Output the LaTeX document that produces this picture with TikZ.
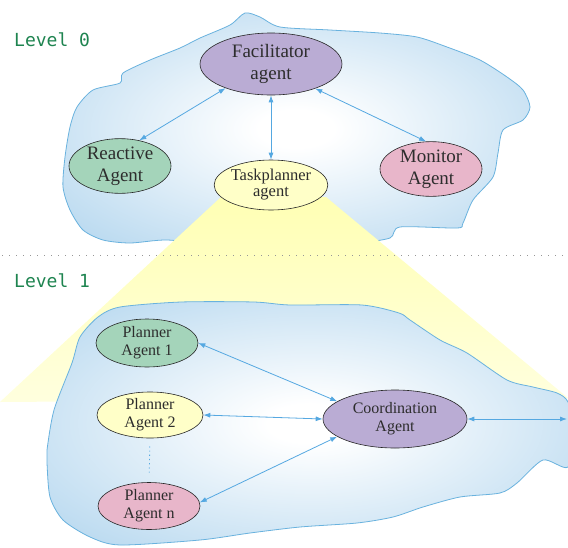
\documentclass[tikz,border=0pt]{standalone}
\usepackage{fontspec}
\setmainfont{Liberation Serif}
\newfontfamily\lvlfont{DejaVu Sans Mono}
\usetikzlibrary{shapes.geometric,arrows.meta}
\definecolor{cloudfill}{RGB}{168,208,236}
\definecolor{cloudline}{RGB}{105,178,222}
\definecolor{arrowc}{RGB}{85,168,225}
\definecolor{purp}{RGB}{186,172,212}
\definecolor{grn}{RGB}{164,212,186}
\definecolor{pnk}{RGB}{232,182,202}
\definecolor{yel}{RGB}{255,255,200}
\definecolor{coneA}{RGB}{255,255,180}
\definecolor{coneB}{RGB}{255,255,222}
\definecolor{lvlgreen}{RGB}{30,132,80}
\definecolor{txt}{RGB}{45,45,45}
\definecolor{dotc}{RGB}{150,150,150}
\pgfdeclareradialshading{cloudshade}{\pgfpoint{0bp}{0bp}}{color(0bp)=(white); color(4bp)=(white); color(40bp)=(cloudfill); color(80bp)=(cloudfill)}
\tikzset{
  agent/.style={ellipse, draw=black!85, line width=0.6pt, inner sep=0pt, text=txt, align=center},
  bigagent/.style={agent, font=\fontsize{19}{22}\selectfont},
  smallagent/.style={agent, font=\fontsize{16}{18}\selectfont},
  conn/.style={draw=arrowc, line width=0.8pt, {Latex[length=7pt,width=5pt]}-{Latex[length=7pt,width=5pt]}},
  lvl/.style={text=lvlgreen, font=\lvlfont\fontsize{18}{20}\selectfont, anchor=west, inner sep=0pt},
  cloud/.style={shading=cloudshade, draw=cloudline, line width=0.8pt}
}
\begin{document}
\begin{tikzpicture}[x=1pt,y=-1pt]
\useasboundingbox (0,0) rectangle (568,547);
\fill[white] (0,0) rectangle (568,547);

% top cloud
\shadedraw[cloud] plot[smooth cycle, tension=0.45] coordinates {
(63,187) (65,157) (70,127) (77,107) (93,90) (120,83) (123,73) (150,60) (180,48) (200,38) (230,25) (245,13) (260,17) (280,27) (330,30) (380,33) (417,37) (447,47) (480,60) (507,77) (523,90) (530,107) (523,120) (503,130) (498,153) (493,177) (473,200) (463,223) (457,228) (400,227) (390,238) (357,243) (300,245) (220,245) (167,240) (130,243) (103,240) (83,230) (70,210)};

% yellow cone
\shade[top color=coneA, bottom color=coneB] (221,197) -- (326,197) -- (568,398) -- (0,402) -- cycle;

% bottom cloud
\shadedraw[cloud] plot[smooth cycle, tension=0.45] coordinates {
(47,463) (47,450) (54,410) (72,363) (80,337) (98,317) (120,307) (181,302) (254,302) (290,305) (362,305) (399,313) (410,320) (440,340) (467,353) (507,380) (533,387) (557,393) (568,402) (574,430) (568,467) (543,460) (517,483) (500,493) (460,497) (423,507) (393,517) (357,523) (300,527) (250,533) (200,540) (120,545) (90,537) (63,520) (50,497)};

% separator
\draw[dotc, line width=0.8pt, dash pattern=on 0.8pt off 6.2pt] (2,255) -- (568,255);

% level labels
\node[lvl] (lv0) at (14,40) {Level 0};
\node[lvl] (lv1) at (14,281) {Level 1};

% level 0 agents
\node[bigagent, fill=purp, minimum width=142pt, minimum height=62pt] (fac) at (271,64) {Facilitator\\agent};
\node[bigagent, fill=grn, minimum width=102pt, minimum height=52pt] (rea) at (120,166) {Reactive\\Agent};
\node[bigagent, fill=pnk, minimum width=102pt, minimum height=52pt] (mon) at (431,169) {Monitor\\Agent};
\node[agent, fill=yel, minimum width=108pt, minimum height=50pt, font=\fontsize{16.5}{16}\selectfont] (task) at (271,185) {Taskplanner\\agent};

% level 1 agents
\node[smallagent, fill=grn, minimum width=102pt, minimum height=48pt] (p1) at (147,343) {Planner\\Agent 1};
\node[smallagent, fill=yel, minimum width=106pt, minimum height=46pt] (p2) at (150,415) {Planner\\Agent 2};
\node[smallagent, fill=pnk, minimum width=102pt, minimum height=47pt] (pn) at (149,506) {Planner\\Agent n};
\node[agent, fill=purp, minimum width=144pt, minimum height=58pt, font=\fontsize{16}{18}\selectfont] (coord) at (395,419) {Coordination\\Agent};
\coordinate (rightend) at (567,419);

% connectors
\draw[conn] (fac.208) -- (rea.53);
\draw[conn] (fac.south) -- (task.north);
\draw[conn] (fac.331) -- (mon.100);
\draw[conn] (p1.east) -- (coord.163);
\draw[conn] (p2.east) -- (coord.west);
\draw[conn] (pn.4) -- (coord.197);
\draw[conn] (coord.east) -- (rightend);
\draw[arrowc, line width=0.8pt, dash pattern=on 1.2pt off 3pt, shorten <=8pt, shorten >=8pt] (p2.south) -- (pn.north);
\end{tikzpicture}
\end{document}
